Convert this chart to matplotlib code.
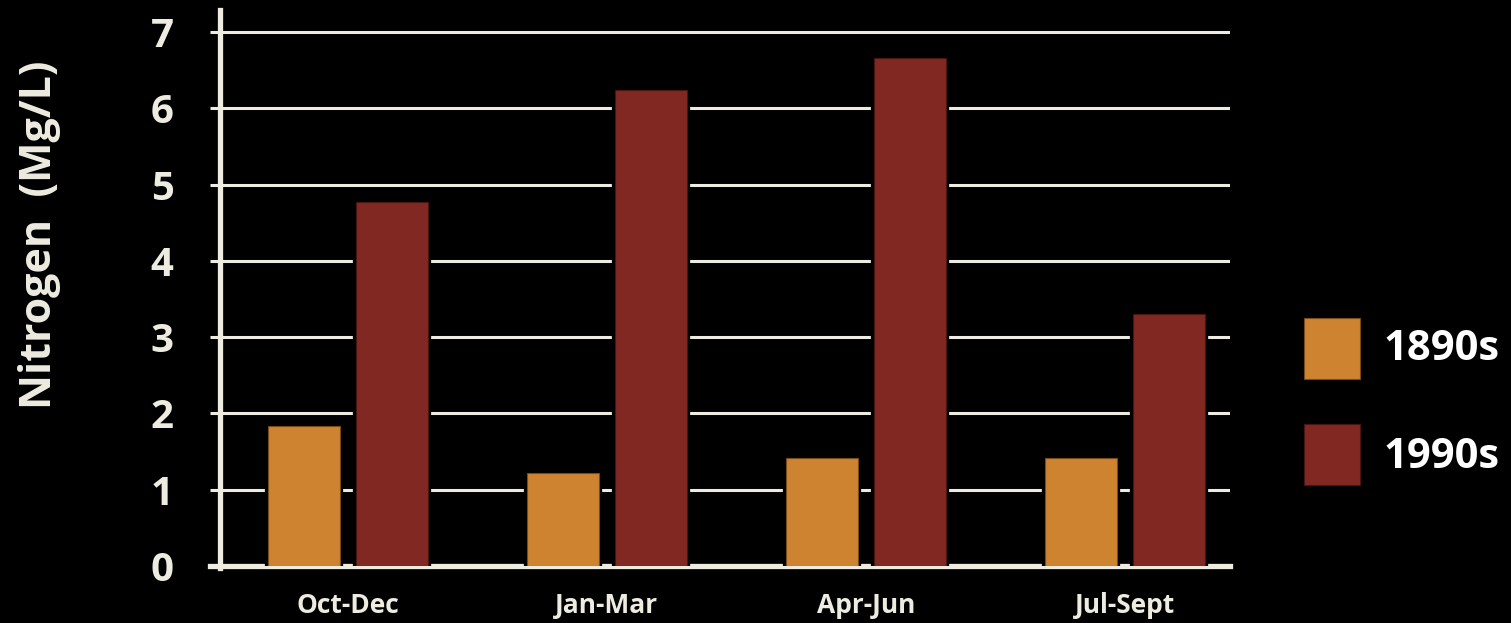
import numpy as np
import matplotlib.pyplot as plt

# Seasonal nitrogen readings, 1890s vs 1990s
seasons = ['Oct-Dec', 'Jan-Mar', 'Apr-Jun', 'Jul-Sept']
n_1890s = [1.84, 1.22, 1.42, 1.42]
n_1990s = [4.77, 6.24, 6.66, 3.30]
yticks = [0, 1, 2, 3, 4, 5, 6, 7]

cream = '#EEEBE0'
orange = '#CD8330'
red = '#822822'

plt.rcParams['font.family'] = ['Open Sans', 'DejaVu Sans']
plt.rcParams['font.weight'] = 'bold'

fig = plt.figure(figsize=(15.11, 6.23), dpi=100, facecolor='black')
ax = fig.add_axes([0.1456, 0.0915, 0.6684, 0.8925], facecolor='black')

x = np.arange(len(seasons))
w = 0.277
off = 0.171

# black halo first so the gridlines stop short of each bar
for xs, vals, col, edge in [(x - off, n_1890s, orange, '#7a4a18'),
                            (x + off, n_1990s, red, '#4a1510')]:
    ax.bar(xs, vals, width=w, color='black', edgecolor='black', linewidth=4.5, zorder=3)
    ax.bar(xs, vals, width=w, color=col, edgecolor=edge, linewidth=0.8, zorder=4)

ax.set_xlim(-0.494, 3.405)
ax.set_ylim(0, 7.29)
ax.set_yticks(yticks)
ax.set_xticks(x)
ax.set_xticklabels(seasons, fontsize=19, fontweight='bold', color=cream)
ax.tick_params(axis='x', length=0, pad=19)
ax.tick_params(axis='y', length=7.5, width=2.2, color=cream, labelcolor=cream,
               labelsize=29, pad=26)
for lab in ax.get_yticklabels():
    lab.set_fontweight('bold')

ax.yaxis.grid(True, color=cream, linewidth=2.2, zorder=1)
ax.set_axisbelow(True)

for s in ['top', 'right', 'bottom']:
    ax.spines[s].set_visible(False)
ax.spines['left'].set_color(cream)
ax.spines['left'].set_linewidth(3.8)
ax.spines['left'].set_bounds(-0.03, 7.29)

# heavier baseline along zero
ax.plot([-0.01, 1.0], [0, 0], transform=ax.get_yaxis_transform(), color=cream,
        linewidth=3.8, clip_on=False, zorder=2)

ax.set_ylabel('Nitrogen  (Mg/L)', fontsize=31, fontweight='bold', color=cream)
ax.yaxis.set_label_coords(-0.157, 0.595)

# legend drawn as plain patches and text
fig.patches.append(plt.Rectangle((1304 / 1511, 1 - 379 / 623), 56 / 1511, 61 / 623,
                                 transform=fig.transFigure, facecolor=orange,
                                 edgecolor='#7a4a18', linewidth=0.8))
fig.patches.append(plt.Rectangle((1304 / 1511, 1 - 485 / 623), 56 / 1511, 61 / 623,
                                 transform=fig.transFigure, facecolor=red,
                                 edgecolor='#4a1510', linewidth=0.8))
fig.text(1384 / 1511, 1 - 350 / 623, '1890s', color='white', fontsize=30,
         fontweight='bold', va='center', ha='left')
fig.text(1384 / 1511, 1 - 458 / 623, '1990s', color='white', fontsize=30,
         fontweight='bold', va='center', ha='left')

fig.savefig('out.png', dpi=100, facecolor='black')
